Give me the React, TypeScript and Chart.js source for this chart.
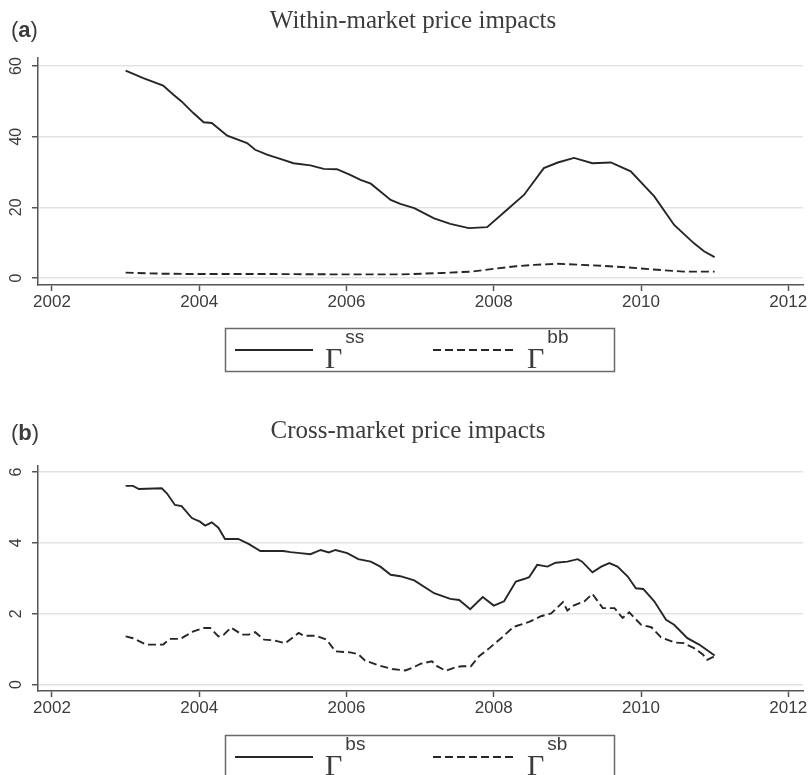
import React, { useEffect, useRef } from 'react';
import { Chart, registerables } from 'chart.js';

Chart.register(...registerables);

// ---------------- data ----------------
const xTickYears = [2002, 2004, 2006, 2008, 2010, 2012];
const yTicksWithin = [0, 20, 40, 60];
const yTicksCross = [0, 2, 4, 6];

const titleWithin = 'Within-market price impacts';
const titleCross = 'Cross-market price impacts';
const legendSupWithin = ['ss', 'bb'];
const legendSupCross = ['bs', 'sb'];

// Panel (a): Γss (solid) and Γbb (dashed)
const ssYears = [2003.0, 2003.24, 2003.51, 2003.65, 2003.76, 2003.92, 2004.06, 2004.17, 2004.38, 2004.65, 2004.76, 2004.92, 2005.1, 2005.28, 2005.51, 2005.69, 2005.87, 2006.05, 2006.19, 2006.33, 2006.46, 2006.6, 2006.73, 2006.92, 2007.19, 2007.41, 2007.66, 2007.91, 2008.18, 2008.41, 2008.68, 2008.87, 2009.09, 2009.34, 2009.59, 2009.86, 2010.18, 2010.45, 2010.72, 2010.86, 2011.0];
const ssValues = [58.7, 56.6, 54.5, 51.9, 50.0, 46.7, 44.1, 43.9, 40.3, 38.2, 36.3, 34.9, 33.7, 32.5, 31.9, 30.9, 30.8, 29.2, 27.8, 26.7, 24.5, 22.1, 21.0, 19.8, 16.9, 15.3, 14.1, 14.4, 19.3, 23.5, 31.1, 32.7, 34.0, 32.5, 32.7, 30.2, 23.1, 15.0, 9.8, 7.5, 5.9];

const bbYears = [2003.0, 2003.5, 2004.0, 2005.0, 2006.0, 2006.73, 2007.3, 2007.7, 2008.05, 2008.3, 2008.55, 2008.87, 2009.2, 2009.5, 2009.82, 2010.22, 2010.58, 2011.0];
const bbValues = [1.5, 1.2, 1.1, 1.1, 1.0, 1.0, 1.4, 1.8, 2.7, 3.3, 3.7, 4.0, 3.7, 3.4, 3.0, 2.3, 1.8, 1.8];

// Panel (b): Γbs (solid) and Γsb (dashed)
const bsYears = [2003.0, 2003.1, 2003.18, 2003.49, 2003.56, 2003.67, 2003.76, 2003.9, 2004.01, 2004.08, 2004.17, 2004.26, 2004.35, 2004.53, 2004.67, 2004.83, 2005.14, 2005.24, 2005.37, 2005.51, 2005.65, 2005.76, 2005.85, 2006.01, 2006.16, 2006.33, 2006.46, 2006.6, 2006.73, 2006.92, 2007.19, 2007.41, 2007.53, 2007.68, 2007.85, 2008.0, 2008.14, 2008.3, 2008.41, 2008.48, 2008.59, 2008.73, 2008.84, 2009.0, 2009.14, 2009.2, 2009.34, 2009.46, 2009.57, 2009.68, 2009.82, 2009.93, 2010.03, 2010.18, 2010.34, 2010.45, 2010.63, 2010.79, 2011.0];
const bsValues = [5.61, 5.61, 5.52, 5.54, 5.40, 5.07, 5.04, 4.70, 4.60, 4.49, 4.58, 4.43, 4.11, 4.11, 3.97, 3.77, 3.77, 3.74, 3.71, 3.68, 3.80, 3.73, 3.80, 3.71, 3.54, 3.47, 3.33, 3.10, 3.06, 2.94, 2.58, 2.42, 2.39, 2.13, 2.47, 2.23, 2.35, 2.91, 2.98, 3.03, 3.38, 3.33, 3.44, 3.47, 3.54, 3.47, 3.17, 3.33, 3.43, 3.33, 3.05, 2.72, 2.70, 2.35, 1.83, 1.69, 1.31, 1.13, 0.82];

const sbYears = [2003.0, 2003.1, 2003.28, 2003.51, 2003.6, 2003.74, 2003.92, 2004.06, 2004.15, 2004.26, 2004.33, 2004.43, 2004.47, 2004.58, 2004.67, 2004.76, 2004.88, 2005.01, 2005.17, 2005.35, 2005.42, 2005.58, 2005.73, 2005.85, 2006.05, 2006.16, 2006.25, 2006.44, 2006.62, 2006.8, 2006.89, 2007.01, 2007.16, 2007.23, 2007.35, 2007.48, 2007.57, 2007.69, 2007.8, 2007.94, 2008.1, 2008.27, 2008.48, 2008.64, 2008.78, 2008.94, 2009.0, 2009.09, 2009.23, 2009.34, 2009.48, 2009.64, 2009.75, 2009.84, 2010.0, 2010.14, 2010.27, 2010.45, 2010.58, 2010.72, 2010.84, 2010.9, 2011.0];
const sbValues = [1.36, 1.31, 1.13, 1.13, 1.29, 1.29, 1.50, 1.60, 1.60, 1.36, 1.40, 1.61, 1.56, 1.41, 1.41, 1.48, 1.27, 1.25, 1.17, 1.46, 1.38, 1.38, 1.27, 0.94, 0.91, 0.86, 0.68, 0.54, 0.44, 0.40, 0.47, 0.59, 0.66, 0.52, 0.39, 0.49, 0.52, 0.52, 0.80, 1.03, 1.31, 1.63, 1.77, 1.93, 2.01, 2.33, 2.09, 2.24, 2.35, 2.56, 2.16, 2.16, 1.88, 2.04, 1.69, 1.62, 1.34, 1.19, 1.17, 1.03, 0.85, 0.70, 0.80];

// ---------------- styling ----------------
const TEXT = '#3c3c3c';
const AXIS = '#555555';
const GRID = '#e3e3e3';
const LINE = '#262626';
const SANS = '"Liberation Sans", Arial, sans-serif';
const SERIF = '"Liberation Serif", "Times New Roman", serif';

const toPoints = (xs: number[], ys: number[]) => xs.map((x, i) => ({ x, y: ys[i] }));

type Layout = {
  height: number;
  top: number;
  padTop: number;
  padBottom: number;
  yMin: number;
  yMax: number;
  letterBase: number;
  titleX: number;
  titleBase: number;
  legendTop: number;
  legendLineY: number;
};

type PanelProps = {
  letter: string;
  title: string;
  sups: string[];
  yTicks: number[];
  solidX: number[];
  solidY: number[];
  dashX: number[];
  dashY: number[];
  layout: Layout;
};

function Panel(props: PanelProps) {
  const ref = useRef<HTMLCanvasElement>(null);

  useEffect(() => {
    const canvas = ref.current!;
    const L = props.layout;

    const overlay = {
      id: 'overlay',
      afterDraw(chart: any) {
        const ctx: CanvasRenderingContext2D = chart.ctx;
        ctx.save();
        ctx.fillStyle = TEXT;
        ctx.textBaseline = 'alphabetic';
        ctx.textAlign = 'left';

        // panel letter "(a)"
        let x = 11;
        ctx.font = `22px ${SANS}`;
        ctx.fillText('(', x, L.letterBase);
        x += ctx.measureText('(').width;
        ctx.font = `bold 22px ${SANS}`;
        ctx.fillText(props.letter, x, L.letterBase);
        x += ctx.measureText(props.letter).width;
        ctx.font = `22px ${SANS}`;
        ctx.fillText(')', x, L.letterBase);

        // title
        ctx.font = `25px ${SERIF}`;
        ctx.textAlign = 'center';
        ctx.fillText(props.title, L.titleX, L.titleBase);

        // rotated y tick labels
        const ys = chart.scales.y;
        ctx.font = `16px ${SANS}`;
        ctx.textAlign = 'center';
        ctx.textBaseline = 'middle';
        for (const t of ys.ticks) {
          const py = ys.getPixelForValue(t.value);
          ctx.save();
          ctx.translate(17, py);
          ctx.rotate(-Math.PI / 2);
          ctx.fillText(String(t.value), 0, 0);
          ctx.restore();
        }

        // legend box
        ctx.strokeStyle = '#6a6a6a';
        ctx.lineWidth = 1.5;
        ctx.strokeRect(225.5, L.legendTop + 0.5, 389, 43);

        const ly = L.legendLineY;
        const entries = [
          { x1: 235, x2: 313, gx: 325, dashed: false, sup: props.sups[0] },
          { x1: 433, x2: 515, gx: 527, dashed: true, sup: props.sups[1] },
        ];
        for (const e of entries) {
          ctx.strokeStyle = LINE;
          ctx.lineWidth = 1.8;
          ctx.setLineDash(e.dashed ? [8, 4] : []);
          ctx.beginPath();
          ctx.moveTo(e.x1, ly);
          ctx.lineTo(e.x2, ly);
          ctx.stroke();
          ctx.setLineDash([]);
          ctx.textAlign = 'left';
          ctx.textBaseline = 'alphabetic';
          ctx.font = `30px ${SERIF}`;
          ctx.fillText('Γ', e.gx, ly + 18);
          const gw = ctx.measureText('Γ').width;
          ctx.font = `19px ${SANS}`;
          ctx.fillText(e.sup, e.gx + gw + 3, ly - 7);
        }
        ctx.restore();
      },
    };

    const chart = new Chart(canvas, {
      type: 'line',
      data: {
        datasets: [
          {
            data: toPoints(props.solidX, props.solidY),
            borderColor: LINE,
            borderWidth: 1.9,
            pointRadius: 0,
            tension: 0,
            fill: false,
          },
          {
            data: toPoints(props.dashX, props.dashY),
            borderColor: LINE,
            borderWidth: 1.9,
            borderDash: [8, 4],
            pointRadius: 0,
            tension: 0,
            fill: false,
          },
        ],
      },
      options: {
        animation: false,
        responsive: false,
        events: [],
        layout: { padding: { left: 0, right: 5, top: L.padTop, bottom: L.padBottom } },
        plugins: { legend: { display: false }, tooltip: { enabled: false }, title: { display: false } },
        scales: {
          x: {
            type: 'linear',
            min: 2001.81,
            max: 2012.2,
            afterBuildTicks: (s: any) => {
              s.ticks = xTickYears.map((v) => ({ value: v }));
            },
            afterFit: (s: any) => {
              s.height = 30;
              s.paddingLeft = 0;
              s.paddingRight = 0;
            },
            grid: { drawOnChartArea: false, drawTicks: true, tickLength: 6, tickColor: AXIS, tickWidth: 1.5 },
            border: { display: true, color: AXIS, width: 1.5 },
            ticks: {
              autoSkip: false,
              maxRotation: 0,
              minRotation: 0,
              padding: 1,
              color: TEXT,
              font: { family: SANS, size: 17 },
              callback: (v: any) => String(v),
            },
          },
          y: {
            type: 'linear',
            min: L.yMin,
            max: L.yMax,
            afterBuildTicks: (s: any) => {
              s.ticks = props.yTicks.map((v) => ({ value: v }));
            },
            afterFit: (s: any) => {
              s.width = 38;
              s.paddingTop = 0;
              s.paddingBottom = 0;
            },
            grid: { color: GRID, lineWidth: 1.5, drawTicks: true, tickLength: 6, tickColor: AXIS, tickWidth: 1.5 },
            border: { display: true, color: AXIS, width: 1.5 },
            ticks: {
              color: 'rgba(0,0,0,0)',
              font: { family: SANS, size: 16 },
              callback: (v: any) => String(v),
            },
          },
        },
      },
      plugins: [overlay],
    } as any);

    return () => chart.destroy();
  }, []);

  const L = props.layout;
  return (
    <canvas
      ref={ref}
      width={808}
      height={L.height}
      style={{ position: 'absolute', left: 0, top: L.top, width: 808, height: L.height, display: 'block' }}
    />
  );
}

export default function App() {
  const layoutA: Layout = {
    height: 380,
    top: 0,
    padTop: 58,
    padBottom: 380 - 285 - 30,
    yMin: -2.0,
    yMax: 62.3,
    letterBase: 37,
    titleX: 413,
    titleBase: 28,
    legendTop: 328,
    legendLineY: 350,
  };
  const layoutB: Layout = {
    height: 395,
    top: 380,
    padTop: 86,
    padBottom: 395 - 311 - 30,
    yMin: -0.18,
    yMax: 6.17,
    letterBase: 60,
    titleX: 408,
    titleBase: 58,
    legendTop: 355,
    legendLineY: 377,
  };
  return (
    <div style={{ position: 'absolute', left: 0, top: 0, width: 808, height: 775, background: '#fff', overflow: 'hidden' }}>
      <Panel
        letter="a"
        title={titleWithin}
        sups={legendSupWithin}
        yTicks={yTicksWithin}
        solidX={ssYears}
        solidY={ssValues}
        dashX={bbYears}
        dashY={bbValues}
        layout={layoutA}
      />
      <Panel
        letter="b"
        title={titleCross}
        sups={legendSupCross}
        yTicks={yTicksCross}
        solidX={bsYears}
        solidY={bsValues}
        dashX={sbYears}
        dashY={sbValues}
        layout={layoutB}
      />
    </div>
  );
}
